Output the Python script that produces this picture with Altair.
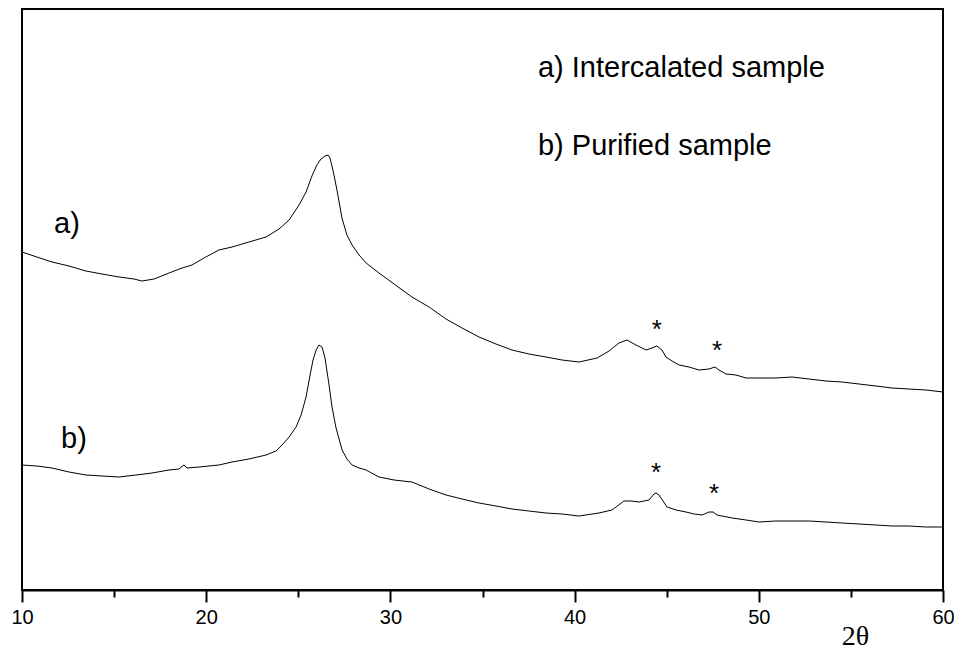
import altair as alt
import pandas as pd

# ---- data (2theta, intensity in arbitrary units) ----
a_x = [10.00, 10.81, 11.63, 12.55, 13.47, 14.34, 15.27, 16.08, 16.51, 17.17,
       17.98, 18.69, 19.23, 19.88, 20.69, 21.40, 22.32, 23.25, 23.95, 24.50,
       25.04, 25.42, 25.74, 26.01, 26.23, 26.45, 26.61, 26.72, 26.88, 27.10,
       27.37, 27.64, 27.92, 28.30, 28.68, 29.38, 30.20, 31.17, 32.10, 33.02,
       33.89, 34.81, 35.73, 36.60, 37.52, 38.45, 39.32, 40.24, 41.22, 41.87,
       42.41, 42.84, 43.33, 43.88, 44.20, 44.47, 44.74, 44.96, 45.29, 45.67,
       46.21, 46.75, 47.30, 47.62, 47.84, 48.22, 48.76, 49.31, 50.01, 50.93,
       51.80, 52.73, 53.65, 54.52, 55.44, 56.36, 57.23, 58.15, 59.08, 60.00]
a_y = [338, 333, 328, 324, 319, 316, 313, 311, 309, 311,
       317, 322, 325, 332, 340, 343, 348, 353, 361, 370,
       385, 398, 414, 425, 431, 434, 435, 432, 420, 400,
       372, 355, 345, 335, 327, 317, 306, 293, 283, 271,
       262, 253, 246, 240, 236, 233, 230, 228, 232, 239,
       247, 250, 245, 240, 242, 244, 240, 233, 229, 225,
       223, 220, 221, 223, 220, 216, 215, 212, 212, 212,
       213, 211, 209, 208, 206, 204, 202, 201, 200, 198]

b_x = [10.00, 10.81, 11.63, 12.55, 13.47, 14.34, 15.27, 16.19, 17.06, 17.98,
       18.52, 18.79, 18.96, 19.61, 20.69, 21.40, 22.32, 23.25, 23.79, 24.12,
       24.50, 24.88, 25.15, 25.42, 25.64, 25.80, 25.97, 26.12, 26.29, 26.45,
       26.67, 26.83, 27.05, 27.38, 27.64, 27.92, 28.30, 28.68, 29.38, 30.20,
       31.17, 32.10, 33.02, 33.89, 34.81, 35.73, 36.60, 37.52, 38.45, 39.32,
       40.24, 41.32, 42.03, 42.68, 43.06, 43.50, 44.04, 44.31, 44.42, 44.58,
       44.80, 45.02, 45.51, 46.05, 46.49, 46.92, 47.30, 47.52, 47.73, 48.00,
       48.55, 49.31, 50.01, 50.93, 51.80, 52.73, 53.65, 54.52, 55.44, 56.36,
       57.23, 58.15, 59.08, 60.00]
b_y = [125, 124, 122, 118, 115, 114, 113, 115, 117, 120,
       121, 125, 122, 123, 125, 128, 131, 135, 139, 145,
       153, 163, 175, 193, 215, 230, 240, 245, 243, 232,
       205, 183, 162, 140, 131, 125, 122, 120, 113, 110,
       108, 101, 95, 91, 87, 84, 81, 79, 77, 76,
       74, 77, 80, 89, 89, 88, 90, 96, 97, 95,
       89, 83, 80, 78, 76, 75, 78, 78, 75, 74,
       72, 70, 68, 69, 69, 69, 68, 67, 66, 65,
       64, 64, 63, 63]

major_ticks = [10, 20, 30, 40, 50, 60]
minor_ticks = [15, 25, 35, 45, 55]

label_text = ["a) Intercalated sample", "b) Purified sample", "a)", "b)"]
label_x = [38.01, 38.01, 11.74, 12.12]
label_y = [513, 435, 357, 142]

star_x = [44.47, 47.73, 44.42, 47.57]
star_y = [252, 231, 109, 88]

# ---- build tables ----
curves = pd.concat([
    pd.DataFrame({"two_theta": a_x, "intensity": a_y, "sample": "a"}),
    pd.DataFrame({"two_theta": b_x, "intensity": b_y, "sample": "b"}),
])
labels = pd.DataFrame({"t": label_text, "x": label_x, "y": label_y})
stars = pd.DataFrame({"x": star_x, "y": star_y, "t": ["*"] * len(star_x)})

xscale = alt.Scale(domain=[10, 60], nice=False, zero=False)
yscale = alt.Scale(domain=[0, 581], nice=False, zero=False)

lines = alt.Chart(curves).mark_line(color="black", strokeWidth=1).encode(
    x=alt.X("two_theta:Q", scale=xscale,
            axis=alt.Axis(
                orient="bottom",
                values=major_ticks,
                ticks=True, tickSize=12, tickColor="black", tickWidth=2, tickOpacity=1,
                domainColor="black", domainWidth=2,
                labelFont="Liberation Sans", labelFontSize=20, labelColor="black",
                labelPadding=5, labelFlush=False, labelOverlap=False,
                grid=False,
                title="2θ", titleFont="Liberation Serif", titleFontSize=28,
                titleFontWeight="normal", titleColor="black",
                titleX=833, titleY=46, titleAlign="center", titleBaseline="middle",
            )),
    y=alt.Y("intensity:Q", scale=yscale, axis=None),
    detail="sample:N",
)

text_layer = alt.Chart(labels).mark_text(
    font="Liberation Sans", fontSize=29, color="black", align="left", baseline="alphabetic"
).encode(
    x=alt.X("x:Q", scale=xscale, axis=None),
    y=alt.Y("y:Q", scale=yscale, axis=None),
    text="t:N",
)

star_layer = alt.Chart(stars).mark_text(
    font="Liberation Sans", fontSize=26, color="black", align="center", baseline="alphabetic"
).encode(
    x=alt.X("x:Q", scale=xscale,
            axis=alt.Axis(orient="bottom", values=minor_ticks,
                          ticks=True, tickSize=7, tickColor="black", tickWidth=2, tickOpacity=1,
                          labels=False, domain=False, grid=False, title=None)),
    y=alt.Y("y:Q", scale=yscale, axis=None),
    text="t:N",
)

chart = alt.layer(lines, text_layer, star_layer).resolve_axis(x="independent").properties(
    width=921, height=581,
    autosize=alt.AutoSizeParams(type="none"),
    padding={"left": 14, "top": 1, "right": 11, "bottom": 60},
).configure_view(stroke="black", strokeWidth=2)

chart.save("out.html", embed_options={"renderer": "svg", "actions": False})
